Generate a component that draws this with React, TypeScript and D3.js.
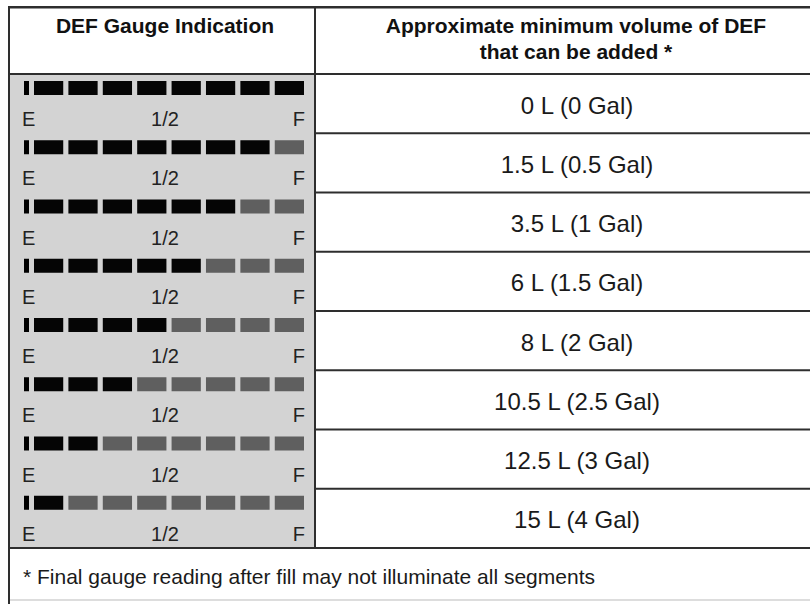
import React from "react";
import * as d3 from "d3";

const litSegments = [8, 7, 6, 5, 4, 3, 2, 1];
const volumeLiters = ["0", "1.5", "3.5", "6", "8", "10.5", "12.5", "15"];
const volumeGallons = ["0", "0.5", "1", "1.5", "2", "2.5", "3", "4"];
const segmentIndex = [0, 1, 2, 3, 4, 5, 6, 7];
const gaugeLabels = ["E", "1/2", "F"];
const headerLeft = "DEF Gauge Indication";
const headerRight = ["Approximate minimum volume of DEF", "that can be added *"];
const footnote = "* Final gauge reading after fill may not illuminate all segments";

const W = 810;
const H = 604;
const FONT = "Liberation Sans, Arial, Helvetica, sans-serif";

export default function App() {
  const left = 9;
  const top = 7;
  const colX = 315;
  const right = 840;
  const headerBottom = 74;
  const tableBottom = 548;
  const footerBottom = 600;

  const rowIdx = d3.range(litSegments.length);
  const y = d3.scaleBand<number>().domain(rowIdx).range([headerBottom, tableBottom]);
  const seg = d3.scaleBand<number>().domain(segmentIndex).range([34, 304]).paddingInner(0.15);
  const lineColor = "#2e2e2e";

  return (
    <svg
      width={W}
      height={H}
      style={{ position: "fixed", left: 0, top: 0, display: "block", background: "#fff" }}
    >
      <rect x={left} y={headerBottom} width={colX - left} height={tableBottom - headerBottom} fill="#d3d3d3" />
      {rowIdx.map((i) => {
        const y0 = y(i)!;
        const lit = litSegments[i];
        return (
          <g key={i}>
            <rect x={24} y={y0 + 7} width={5} height={14} fill="#000" />
            {segmentIndex.map((s) => (
              <rect
                key={s}
                x={seg(s)!}
                y={y0 + 7}
                width={seg.bandwidth()}
                height={14}
                fill={s < lit ? "#050505" : "#5f5f5f"}
              />
            ))}
            <text x={22} y={y0 + 52} fontFamily={FONT} fontSize={20} fill="#222">{gaugeLabels[0]}</text>
            <text x={165} y={y0 + 52} fontFamily={FONT} fontSize={20} fill="#222" textAnchor="middle">{gaugeLabels[1]}</text>
            <text x={305} y={y0 + 52} fontFamily={FONT} fontSize={20} fill="#222" textAnchor="end">{gaugeLabels[2]}</text>
            <text x={577} y={y0 + y.bandwidth() / 2 + 10} fontFamily={FONT} fontSize={24} fill="#1a1a1a" textAnchor="middle">
              {`${volumeLiters[i]} L (${volumeGallons[i]} Gal)`}
            </text>
            {i > 0 && <line x1={colX} x2={right} y1={y0} y2={y0} stroke={lineColor} strokeWidth={2} />}
          </g>
        );
      })}
      <text x={165} y={33} fontFamily={FONT} fontSize={21} fontWeight="bold" fill="#111" textAnchor="middle">{headerLeft}</text>
      {headerRight.map((t, k) => (
        <text key={k} x={576} y={33 + k * 26} fontFamily={FONT} fontSize={21} fontWeight="bold" fill="#111" textAnchor="middle">{t}</text>
      ))}
      <text x={23} y={584} fontFamily={FONT} fontSize={21} fill="#1a1a1a">{footnote}</text>
      <rect x={left - 1} y={top - 1} width={right - left} height={2.5} fill={lineColor} />
      <line x1={left} x2={right} y1={headerBottom} y2={headerBottom} stroke={lineColor} strokeWidth={2} />
      <line x1={left} x2={right} y1={tableBottom} y2={tableBottom} stroke={lineColor} strokeWidth={2} />
      <line x1={left} x2={right} y1={footerBottom} y2={footerBottom} stroke="#bbb" strokeWidth={1} />
      <line x1={left} x2={left} y1={top} y2={H} stroke={lineColor} strokeWidth={2} />
      <line x1={colX} x2={colX} y1={top} y2={tableBottom} stroke={lineColor} strokeWidth={2} />
    </svg>
  );
}
